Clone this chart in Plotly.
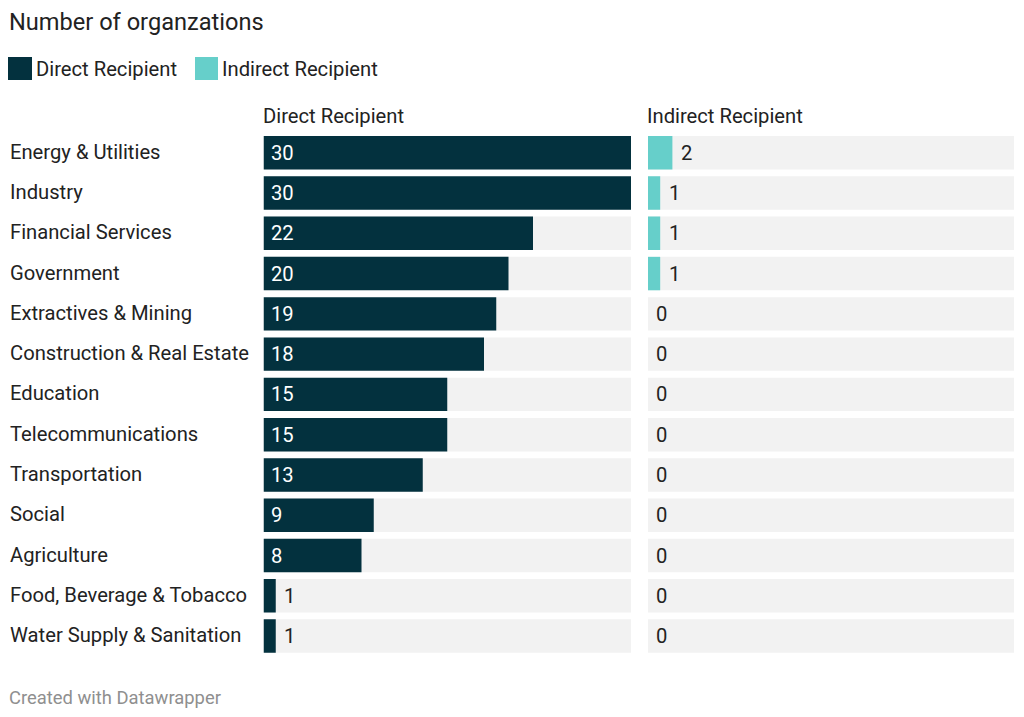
import plotly.graph_objects as go

categories = ["Energy & Utilities", "Industry", "Financial Services", "Government",
              "Extractives & Mining", "Construction & Real Estate", "Education",
              "Telecommunications", "Transportation", "Social", "Agriculture",
              "Food, Beverage & Tobacco", "Water Supply & Sanitation"]
direct = [30, 30, 22, 20, 19, 18, 15, 15, 13, 9, 8, 1, 1]
indirect = [2, 1, 1, 1, 0, 0, 0, 0, 0, 0, 0, 0, 0]
scale_max = 30

DARK = "#03313e"
TEAL = "#66cfca"
GREY = "#f2f2f2"
TXT = "#222222"
FONT = "Roboto"
W, H = 1024, 717
FS = 20.2

fig = go.Figure()
bg = [scale_max] * len(categories)
fig.add_trace(go.Bar(y=categories, x=bg, orientation="h", marker=dict(color=GREY, line_width=0),
                     xaxis="x", yaxis="y", showlegend=False, hoverinfo="skip"))
fig.add_trace(go.Bar(y=categories, x=direct, orientation="h", marker=dict(color=DARK, line_width=0),
                     xaxis="x", yaxis="y", name="Direct Recipient", showlegend=False))
fig.add_trace(go.Bar(y=categories, x=bg, orientation="h", marker=dict(color=GREY, line_width=0),
                     xaxis="x2", yaxis="y", showlegend=False, hoverinfo="skip"))
fig.add_trace(go.Bar(y=categories, x=indirect, orientation="h", marker=dict(color=TEAL, line_width=0),
                     xaxis="x2", yaxis="y", name="Indirect Recipient", showlegend=False))

ann = []
for cat in categories:
    ann.append(dict(x=8 / W, xref="paper", y=cat, yref="y", yshift=1, text=cat, showarrow=False,
                    xanchor="left", yanchor="middle", font=dict(family=FONT, size=FS, color=TXT)))
for cat, v in zip(categories, direct):
    if v >= 5:
        ann.append(dict(x=0, xref="x", y=cat, yref="y", text=str(v), showarrow=False, xanchor="left",
                        xshift=5, font=dict(family=FONT, size=FS, color="white")))
    else:
        ann.append(dict(x=v, xref="x", y=cat, yref="y", text=str(v), showarrow=False, xanchor="left",
                        xshift=6, font=dict(family=FONT, size=FS, color=TXT)))
for cat, v in zip(categories, indirect):
    ann.append(dict(x=v, xref="x2", y=cat, yref="y", text=str(v), showarrow=False, xanchor="left",
                    xshift=7 if v > 0 else 6, font=dict(family=FONT, size=FS, color=TXT)))

def px(x):
    return x / W

def py(y):
    return 1 - y / H

ann += [
    dict(x=px(7), y=py(22), xref="paper", yref="paper", text="Number of organzations", showarrow=False,
         xanchor="left", yanchor="middle", font=dict(family=FONT, size=23.6, color=TXT)),
    dict(x=px(34), y=py(69), xref="paper", yref="paper", text="Direct Recipient", showarrow=False,
         xanchor="left", yanchor="middle", font=dict(family=FONT, size=FS, color=TXT)),
    dict(x=px(220), y=py(69), xref="paper", yref="paper", text="Indirect Recipient", showarrow=False,
         xanchor="left", yanchor="middle", font=dict(family=FONT, size=FS, color=TXT)),
    dict(x=px(261), y=py(116), xref="paper", yref="paper", text="Direct Recipient", showarrow=False,
         xanchor="left", yanchor="middle", font=dict(family=FONT, size=FS, color=TXT)),
    dict(x=px(645), y=py(116), xref="paper", yref="paper", text="Indirect Recipient", showarrow=False,
         xanchor="left", yanchor="middle", font=dict(family=FONT, size=FS, color=TXT)),
    dict(x=px(7), y=py(697), xref="paper", yref="paper", text="Created with Datawrapper", showarrow=False,
         xanchor="left", yanchor="middle", font=dict(family=FONT, size=18.4, color="#8f8f8f")),
]

shapes = [
    dict(type="rect", xref="paper", yref="paper", x0=px(8), x1=px(32), y0=py(57), y1=py(80),
         fillcolor=DARK, line_width=0),
    dict(type="rect", xref="paper", yref="paper", x0=px(195), x1=px(218), y0=py(57), y1=py(80),
         fillcolor=TEAL, line_width=0),
]

fig.update_layout(
    width=W, height=H, margin=dict(l=0, r=0, t=0, b=0),
    paper_bgcolor="white", plot_bgcolor="white",
    barmode="overlay", bargap=0.17,
    xaxis=dict(domain=[px(263.5), px(631)], range=[0, scale_max], visible=False, fixedrange=True),
    xaxis2=dict(domain=[px(648), px(1014)], range=[0, scale_max], visible=False, fixedrange=True),
    yaxis=dict(domain=[py(656.2), py(132.6)], autorange="reversed", visible=False,
               categoryorder="array", categoryarray=categories, fixedrange=True),
    annotations=ann, shapes=shapes, showlegend=False,
    font=dict(family=FONT),
)

fig.write_html("out.html")
